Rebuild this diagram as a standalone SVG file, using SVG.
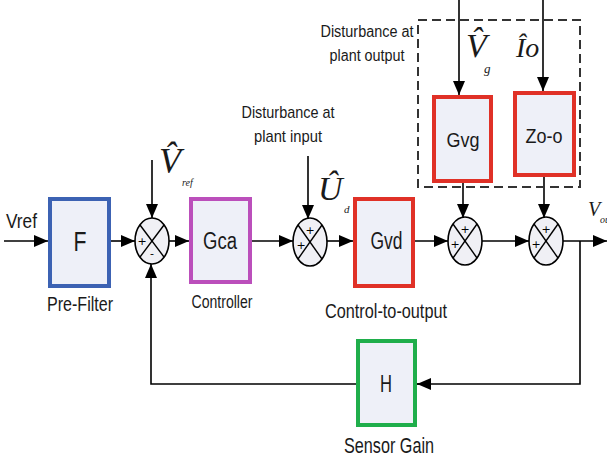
<svg xmlns="http://www.w3.org/2000/svg" width="607" height="457" viewBox="0 0 607 457">
<defs>
<marker id="ah" markerUnits="userSpaceOnUse" markerWidth="14" markerHeight="12" refX="14" refY="6" orient="auto">
<path d="M0,0 L14,6 L0,12 z" fill="#000"/>
</marker>
<style>
.box{fill:#eef0f8;stroke-width:4}
.lbl{font-family:"Liberation Sans",Arial,sans-serif;fill:#1a1a1a}
.math{font-family:"Liberation Serif","Times New Roman",serif;font-style:italic;fill:#1a1a1a}
.sum{fill:#f0f0f5;stroke:#000;stroke-width:1.6}
.x{stroke:#000;stroke-width:1.4}
.sg{font-family:"DejaVu Sans",sans-serif;font-size:11px;fill:#000}
.w{fill:none;stroke:#000;stroke-width:1.6}
.a{fill:none;stroke:#000;stroke-width:1.6;marker-end:url(#ah)}
</style>
</defs>
<rect width="607" height="457" fill="#fff"/>

<g id="connectors">
<line class="a" x1="4" y1="241" x2="48" y2="241"/>
<line class="a" x1="111" y1="241" x2="135" y2="241"/>
<line class="a" x1="169" y1="241" x2="189" y2="241"/>
<line class="a" x1="252" y1="241" x2="293" y2="241"/>
<line class="a" x1="327" y1="241" x2="353" y2="241"/>
<line class="a" x1="415" y1="241" x2="448" y2="241"/>
<line class="a" x1="482" y1="241" x2="529" y2="241"/>
<line class="a" x1="563" y1="241" x2="607" y2="241"/>
<line class="a" x1="152" y1="160" x2="152" y2="218"/>
<line class="a" x1="308" y1="156" x2="308" y2="219"/>
<line class="a" x1="459" y1="0" x2="459" y2="95"/>
<line class="a" x1="543" y1="0" x2="543" y2="91"/>
<line class="a" x1="463" y1="183" x2="463" y2="218"/>
<line class="a" x1="544" y1="177" x2="544" y2="218"/>
<polyline class="w" points="580,241 580,384 417,384"/>
<line class="a" x1="430" y1="384" x2="417" y2="384"/>
<polyline class="a" points="356,384 151,384 151,264"/>
</g>

<g id="disturbance-box">
<rect x="418" y="20" width="162" height="167" fill="none" stroke="#333" stroke-width="2" stroke-dasharray="9,5"/>
<text class="lbl" x="367" y="37" font-size="16" text-anchor="middle" textLength="93" lengthAdjust="spacingAndGlyphs">Disturbance at</text>
<text class="lbl" x="367" y="61" font-size="16" text-anchor="middle" textLength="75" lengthAdjust="spacingAndGlyphs">plant output</text>
</g>

<g id="vref-in">
<text class="lbl" x="6" y="228" font-size="20" textLength="31" lengthAdjust="spacingAndGlyphs">Vref</text>
</g>

<g id="F">
<rect class="box" x="50" y="199" width="59" height="87" stroke="#3c62b3"/>
<text class="lbl" x="80" y="251" font-size="28" text-anchor="middle" textLength="13" lengthAdjust="spacingAndGlyphs">F</text>
<text class="lbl" x="80" y="311" font-size="21" text-anchor="middle" textLength="66" lengthAdjust="spacingAndGlyphs">Pre-Filter</text>
</g>

<g id="sum1">
<ellipse class="sum" cx="152" cy="241" rx="17" ry="23"/>
<line class="x" x1="140" y1="225" x2="164" y2="257"/>
<line class="x" x1="164" y1="225" x2="140" y2="257"/>
<text class="sg" x="142" y="245" text-anchor="middle">+</text>
<text class="sg" x="152" y="257" text-anchor="middle">-</text>
</g>

<g id="vref-hat">
<text class="math" x="159" y="173" font-size="36">V&#x302;</text>
<text class="math" x="182" y="186" font-size="10">ref</text>
</g>

<g id="Gca">
<rect class="box" x="191" y="199" width="59" height="83" stroke="#bb4fbb"/>
<text class="lbl" x="220" y="249" font-size="23" text-anchor="middle" textLength="34" lengthAdjust="spacingAndGlyphs">Gca</text>
<text class="lbl" x="222" y="308" font-size="18" text-anchor="middle" textLength="61" lengthAdjust="spacingAndGlyphs">Controller</text>
</g>

<g id="plant-input-dist">
<text class="lbl" x="288" y="118" font-size="17" text-anchor="middle" textLength="93" lengthAdjust="spacingAndGlyphs">Disturbance at</text>
<text class="lbl" x="288" y="142" font-size="17" text-anchor="middle" textLength="68" lengthAdjust="spacingAndGlyphs">plant input</text>
<text class="math" x="318" y="200" font-size="34">U&#x302;</text>
<text class="math" x="344" y="213" font-size="11">d</text>
</g>

<g id="sum2">
<ellipse class="sum" cx="310" cy="242" rx="17" ry="24"/>
<line class="x" x1="298" y1="225" x2="322" y2="259"/>
<line class="x" x1="322" y1="225" x2="298" y2="259"/>
<text class="sg" x="310" y="234" text-anchor="middle">+</text>
<text class="sg" x="301" y="249" text-anchor="middle">+</text>
</g>

<g id="Gvd">
<rect class="box" x="355" y="199" width="58" height="87" stroke="#e03127"/>
<text class="lbl" x="386.5" y="249" font-size="23" text-anchor="middle" textLength="32" lengthAdjust="spacingAndGlyphs">Gvd</text>
<text class="lbl" x="386" y="318" font-size="21" text-anchor="middle" textLength="122" lengthAdjust="spacingAndGlyphs">Control-to-output</text>
</g>

<g id="vg-in">
<text class="math" x="466" y="57" font-size="34">V&#x302;</text>
<text class="math" x="484" y="73" font-size="13">g</text>
</g>

<g id="io-in">
<text class="math" x="516" y="57" font-size="28">Îo</text>
</g>

<g id="Gvg">
<rect class="box" x="434" y="97" width="57" height="84" stroke="#e03127"/>
<text class="lbl" x="463" y="147" font-size="21" text-anchor="middle" textLength="33" lengthAdjust="spacingAndGlyphs">Gvg</text>
</g>

<g id="Zo-o">
<rect class="box" x="515" y="93" width="59" height="82" stroke="#e03127"/>
<text class="lbl" x="544" y="143" font-size="21" text-anchor="middle" textLength="37" lengthAdjust="spacingAndGlyphs">Zo-o</text>
</g>

<g id="sum3">
<ellipse class="sum" cx="465" cy="241" rx="17" ry="24"/>
<line class="x" x1="453" y1="224" x2="477" y2="258"/>
<line class="x" x1="477" y1="224" x2="453" y2="258"/>
<text class="sg" x="465" y="233" text-anchor="middle">+</text>
<text class="sg" x="455" y="248" text-anchor="middle">+</text>
</g>

<g id="sum4">
<ellipse class="sum" cx="546" cy="241" rx="17" ry="24"/>
<line class="x" x1="534" y1="224" x2="558" y2="258"/>
<line class="x" x1="558" y1="224" x2="534" y2="258"/>
<text class="sg" x="546" y="233" text-anchor="middle">+</text>
<text class="sg" x="536" y="248" text-anchor="middle">+</text>
</g>

<g id="vout">
<text class="math" x="588" y="216" font-size="20">V</text>
<text class="math" x="600" y="223" font-size="10">out</text>
</g>

<g id="H">
<rect class="box" x="358" y="341" width="57" height="84" stroke="#1fae4b"/>
<text class="lbl" x="386" y="392" font-size="24" text-anchor="middle" textLength="12" lengthAdjust="spacingAndGlyphs">H</text>
<text class="lbl" x="389" y="453" font-size="22" text-anchor="middle" textLength="90" lengthAdjust="spacingAndGlyphs">Sensor Gain</text>
</g>
</svg>
